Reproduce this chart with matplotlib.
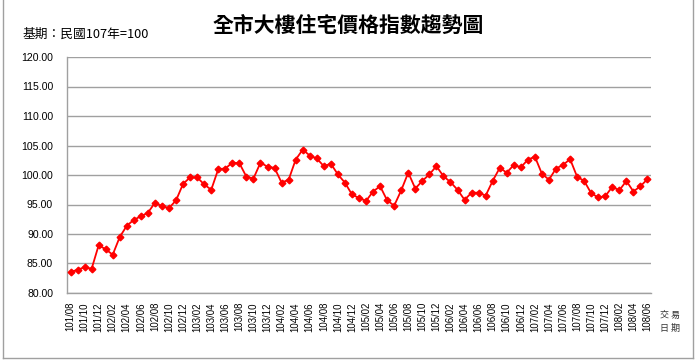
import numpy as np
import matplotlib
matplotlib.use("Agg")
import matplotlib.pyplot as plt
from matplotlib.lines import Line2D

plt.rcParams['font.family'] = ['Liberation Sans', 'Noto Sans CJK TC', 'DejaVu Sans']

title = "全市大樓住宅價格指數趨勢圖"
base_note = "基期：民國107年=100"
x_axis_note = "交 易\n日 期"

# monthly index values, 101/08 .. 108/06
values = [
    83.6, 83.9, 84.4, 84.1, 88.1,                                          # 101/08-101/12
    87.4, 86.5, 89.5, 91.4, 92.4, 93.0, 93.6, 95.3, 94.7, 94.4, 95.7, 98.5,  # 102
    99.6, 99.6, 98.4, 97.5, 101.0, 101.1, 102.1, 102.0, 99.7, 99.4, 102.1, 101.4,  # 103
    101.2, 98.7, 99.2, 102.6, 104.3, 103.3, 102.8, 101.5, 101.9, 100.1, 98.7, 96.7,  # 104
    96.1, 95.6, 97.2, 98.1, 95.7, 94.8, 97.4, 100.4, 97.7, 99.0, 100.1, 101.5,  # 105
    99.8, 98.8, 97.5, 95.8, 97.0, 97.0, 96.5, 99.0, 101.2, 100.4, 101.7, 101.3,  # 106
    102.6, 103.1, 100.2, 99.2, 101.1, 101.7, 102.7, 99.7, 99.0, 96.9, 96.2, 96.4,  # 107
    98.0, 97.4, 99.0, 97.2, 98.1, 99.3,                                    # 108/01-108/06
]

months = []
y, m = 101, 8
for _ in values:
    months.append(f"{y}/{m:02d}")
    m += 1
    if m > 12:
        y, m = y + 1, 1

yticks = np.arange(80, 121, 5)

fig = plt.figure(figsize=(6.96, 3.61), dpi=100)
ax = fig.add_axes([67 / 696, 1 - 293 / 361, 584 / 696, 236 / 361])

x = np.arange(len(values))
ax.plot(x, values, color='#FF0000', lw=1.3, marker='D', ms=3.4,
        markerfacecolor='#FF0000', markeredgecolor='#FF0000', zorder=3)

ax.set_xlim(-0.5, len(values) - 0.5)
ax.set_ylim(80, 120)
ax.set_yticks(yticks)
ax.set_yticklabels([f"{v:.2f}" for v in yticks], fontsize=7.6)
ax.set_xticks(x[::2])
ax.set_xticklabels(months[::2], rotation=90, fontsize=6.9)
ax.tick_params(axis='y', length=0, pad=10)
ax.tick_params(axis='x', length=0, pad=6.5)

ax.yaxis.grid(True, color='#A0A0A0', lw=1.0)
ax.set_axisbelow(True)
for s in ['top', 'right']:
    ax.spines[s].set_visible(False)
for s in ['left', 'bottom']:
    ax.spines[s].set_color('#A0A0A0')
    ax.spines[s].set_linewidth(1.0)

fig.text(348 / 696, 1 - 25 / 361, title, ha='center', va='center',
         fontsize=15, fontweight='bold', family=['Noto Sans CJK TC'])
fig.text(22 / 696, 1 - 34 / 361, base_note, ha='left', va='center',
         fontsize=9.2, family=['Noto Sans CJK TC', 'DejaVu Sans'])
fig.text(660 / 696, 1 - 322 / 361, x_axis_note, ha='left', va='center',
         fontsize=6.5, linespacing=1.6, color='#333333',
         family=['Noto Sans CJK TC'])

# outer chart frame
frame = dict(color='#A0A0A0', lw=1.0, transform=fig.transFigure)
fig.add_artist(Line2D([3 / 696, 3 / 696], [1 - 358 / 361, 1], **frame))
fig.add_artist(Line2D([693 / 696, 693 / 696], [1 - 358 / 361, 1], **frame))
fig.add_artist(Line2D([3 / 696, 693 / 696], [1 - 358 / 361, 1 - 358 / 361], **frame))

fig.savefig('out.png', dpi=100)
